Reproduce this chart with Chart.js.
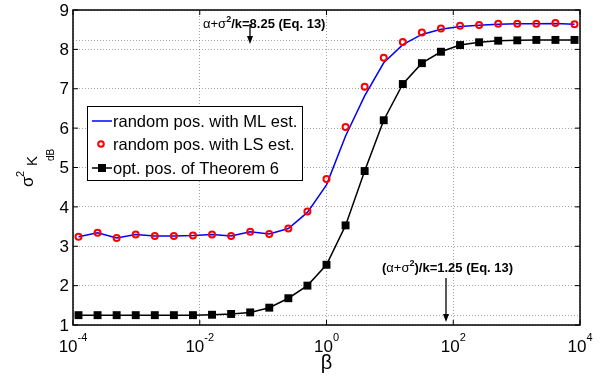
<!DOCTYPE html>
<html>
<head>
<meta charset="utf-8">
<script src="https://cdn.jsdelivr.net/npm/chart.js@4.4.0/dist/chart.umd.min.js"></script>
<style>
  html, body { margin: 0; padding: 0; background: #ffffff; }
  #wrap { width: 602px; height: 379px; }
</style>
</head>
<body>
<div id="wrap"><canvas id="c" width="602" height="379"></canvas></div>
<script>
// beta = 2^k for these exponents
const betaPow2 = [-13, -12, -11, -10, -9, -8, -7, -6, -5, -4, -3, -2, -1, 0,
                  1, 2, 3, 4, 5, 6, 7, 8, 9, 10, 11, 12, 13];

// random positions, ML estimator
const mlValues = [3.24, 3.34, 3.21, 3.30, 3.26, 3.26, 3.27, 3.30, 3.26, 3.37, 3.31, 3.45,
                  3.86, 4.56, 5.80, 6.82, 7.66, 8.12, 8.38, 8.51, 8.58, 8.61, 8.64, 8.65,
                  8.65, 8.66, 8.64];

// random positions, LS estimator
const lsValues = [3.24, 3.34, 3.21, 3.30, 3.26, 3.26, 3.27, 3.30, 3.26, 3.37, 3.31, 3.45,
                  3.88, 4.71, 6.03, 7.05, 7.79, 8.19, 8.43, 8.53, 8.60, 8.62, 8.65, 8.65,
                  8.65, 8.67, 8.64];

// optimal positions (Theorem 6)
const optValues = [1.25, 1.25, 1.25, 1.25, 1.25, 1.25, 1.25, 1.26, 1.28, 1.32, 1.44, 1.68,
                   2.00, 2.53, 3.53, 4.91, 6.20, 7.12, 7.65, 7.94, 8.11, 8.18, 8.22, 8.23,
                   8.24, 8.24, 8.24];

const seriesNames = ['random pos. with ML est.', 'random pos. with LS est.', 'opt. pos. of Theorem 6'];
const xTickExps = [-4, -2, 0, 2, 4];
const yTicks = [1, 2, 3, 4, 5, 6, 7, 8, 9];
const levelHigh = 8.25;   // (alpha+sigma^2)/k limit for large beta
const levelLow = 1.25;    // limit for small beta

const FONT = "'Liberation Sans', Arial, Helvetica, sans-serif";
const GRID_COLOR = 'rgba(90,90,90,0.55)';

const betas = betaPow2.map(k => Math.pow(2, k));
const toXY = vals => betas.map((b, i) => ({ x: b, y: vals[i] }));

// draws a run of text pieces with their own font and vertical shift
function drawRich(ctx, pieces, x, y) {
  let cx = x;
  for (const p of pieces) {
    ctx.font = p.font;
    ctx.fillText(p.t, cx, y + (p.dy || 0));
    cx += ctx.measureText(p.t).width;
  }
  return cx;
}

function drawArrow(ctx, x, y0, y1) {
  ctx.save();
  ctx.strokeStyle = '#000';
  ctx.fillStyle = '#000';
  ctx.lineWidth = 1.3;
  ctx.beginPath();
  ctx.moveTo(x, y0);
  ctx.lineTo(x, y1 - 6);
  ctx.stroke();
  ctx.beginPath();
  ctx.moveTo(x - 3, y1 - 8);
  ctx.lineTo(x + 3, y1 - 8);
  ctx.lineTo(x, y1);
  ctx.closePath();
  ctx.fill();
  ctx.restore();
}

const decorations = {
  id: 'decorations',
  beforeDatasetsDraw(chart) {
    const { ctx, chartArea: a, scales: { y } } = chart;
    ctx.save();
    ctx.strokeStyle = GRID_COLOR;
    ctx.lineWidth = 1;
    ctx.setLineDash([1, 2]);
    for (const v of [levelHigh, levelLow]) {
      const py = Math.round(y.getPixelForValue(v)) + 0.5;
      ctx.beginPath();
      ctx.moveTo(a.left, py);
      ctx.lineTo(a.right, py);
      ctx.stroke();
    }
    ctx.restore();
  },
  afterDraw(chart) {
    const { ctx, chartArea: a, scales: { x, y } } = chart;
    ctx.save();

    // axes box
    ctx.strokeStyle = '#000';
    ctx.lineWidth = 1.5;
    ctx.strokeRect(a.left, a.top, a.right - a.left, a.bottom - a.top);

    // inward tick marks
    ctx.lineWidth = 1;
    ctx.beginPath();
    for (const v of yTicks) {
      const py = y.getPixelForValue(v);
      ctx.moveTo(a.left, py); ctx.lineTo(a.left + 5, py);
      ctx.moveTo(a.right, py); ctx.lineTo(a.right - 5, py);
    }
    for (const e of xTickExps) {
      const px = x.getPixelForValue(Math.pow(10, e));
      ctx.moveTo(px, a.bottom); ctx.lineTo(px, a.bottom - 5);
      ctx.moveTo(px, a.top); ctx.lineTo(px, a.top + 5);
    }
    ctx.stroke();

    // y tick labels
    ctx.fillStyle = '#000';
    ctx.font = '17px ' + FONT;
    ctx.textAlign = 'right';
    ctx.textBaseline = 'middle';
    for (const v of yTicks) {
      ctx.fillText(String(v), a.left - 4, y.getPixelForValue(v) + 1);
    }

    // x tick labels as powers of ten
    ctx.textAlign = 'left';
    ctx.textBaseline = 'alphabetic';
    for (const e of xTickExps) {
      const px = x.getPixelForValue(Math.pow(10, e));
      ctx.font = '17px ' + FONT;
      const wb = ctx.measureText('10').width;
      ctx.font = '11px ' + FONT;
      const ws = ctx.measureText(String(e)).width;
      const sx = px - (wb + ws) / 2;
      ctx.font = '17px ' + FONT;
      ctx.fillText('10', sx, a.bottom + 27);
      ctx.font = '11px ' + FONT;
      ctx.fillText(String(e), sx + wb, a.bottom + 16);
    }

    // x axis title
    ctx.font = '20px ' + FONT;
    ctx.textAlign = 'center';
    ctx.fillText('\u03B2', x.getPixelForValue(1), 369);

    // y axis title: sigma^2 with subscript K_dB, rotated
    ctx.save();
    ctx.translate(33, 187);
    ctx.rotate(-Math.PI / 2);
    ctx.textAlign = 'left';
    ctx.font = '17px ' + FONT;
    ctx.fillText('\u03C3', 0, 0);
    ctx.font = '11px ' + FONT;
    ctx.fillText('2', 10, -9);
    ctx.font = '15px ' + FONT;
    ctx.fillText('K', 21, 4);
    ctx.font = '10px ' + FONT;
    ctx.fillText('dB', 26, 21);
    ctx.restore();

    // annotations
    ctx.textAlign = 'left';
    const reg = '13px ' + FONT, bold = 'bold 13px ' + FONT, sup = 'bold 9px ' + FONT;
    drawRich(ctx, [
      { t: '\u03B1+\u03C3', font: reg },
      { t: '2', font: sup, dy: -6 },
      { t: '/k=8.25 (Eq. 13)', font: bold }
    ], 203, 28);
    drawArrow(ctx, 250, 24, 44);

    drawRich(ctx, [
      { t: '(', font: bold },
      { t: '\u03B1+\u03C3', font: reg },
      { t: '2', font: sup, dy: -6 },
      { t: ')/k=1.25 (Eq. 13)', font: bold }
    ], 382, 272);
    drawArrow(ctx, 446, 278, 322);

    // legend
    const lx = 87, ly = 106, lw = 215, lh = 74;
    ctx.fillStyle = '#fff';
    ctx.fillRect(lx, ly, lw, lh);
    ctx.strokeStyle = '#000';
    ctx.lineWidth = 1;
    ctx.strokeRect(lx + 0.5, ly + 0.5, lw, lh);
    const rows = [121, 144, 168];
    // ML line sample
    ctx.strokeStyle = '#0000ff';
    ctx.lineWidth = 1.5;
    ctx.beginPath(); ctx.moveTo(92, rows[0]); ctx.lineTo(112, rows[0]); ctx.stroke();
    // LS marker sample
    ctx.strokeStyle = '#ff0000';
    ctx.lineWidth = 2;
    ctx.beginPath(); ctx.arc(101, rows[1], 2.8, 0, Math.PI * 2); ctx.stroke();
    // optimal line + square sample
    ctx.strokeStyle = '#000';
    ctx.lineWidth = 1.5;
    ctx.beginPath(); ctx.moveTo(92, rows[2]); ctx.lineTo(112, rows[2]); ctx.stroke();
    ctx.fillStyle = '#000';
    ctx.fillRect(98, rows[2] - 4, 8, 8);

    ctx.fillStyle = '#000';
    ctx.font = '16.5px ' + FONT;
    ctx.textAlign = 'left';
    ctx.textBaseline = 'middle';
    seriesNames.forEach((n, i) => ctx.fillText(n, 113, rows[i] + 1));

    ctx.restore();
  }
};

new Chart(document.getElementById('c'), {
  type: 'line',
  data: {
    datasets: [
      {
        label: seriesNames[0],
        data: toXY(mlValues),
        borderColor: '#0000ff',
        borderWidth: 1.5,
        pointRadius: 0,
        tension: 0,
        order: 3
      },
      {
        label: seriesNames[1],
        data: toXY(lsValues),
        showLine: false,
        pointStyle: 'circle',
        pointRadius: 3,
        pointBorderWidth: 2,
        borderColor: '#ff0000',
        pointBorderColor: '#ff0000',
        pointBackgroundColor: 'rgba(255,255,255,0)',
        order: 1
      },
      {
        label: seriesNames[2],
        data: toXY(optValues),
        borderColor: '#000000',
        borderWidth: 1.5,
        pointStyle: 'rect',
        pointRadius: 5.6,
        pointBorderWidth: 0,
        pointBackgroundColor: '#000000',
        pointBorderColor: '#000000',
        tension: 0,
        order: 2
      }
    ]
  },
  options: {
    responsive: false,
    animation: false,
    devicePixelRatio: 1,
    layout: { padding: { left: 73, right: 22, top: 10, bottom: 54 } },
    plugins: { legend: { display: false }, tooltip: { enabled: false } },
    scales: {
      x: {
        type: 'logarithmic',
        min: 1e-4,
        max: 1e4,
        afterBuildTicks: s => { s.ticks = xTickExps.map(e => ({ value: Math.pow(10, e) })); },
        ticks: { display: false },
        grid: { color: GRID_COLOR, lineWidth: 1, drawTicks: false },
        border: { display: false, dash: [1, 2] }
      },
      y: {
        type: 'linear',
        min: 1,
        max: 9,
        afterBuildTicks: s => { s.ticks = yTicks.map(v => ({ value: v })); },
        ticks: { display: false },
        grid: { color: GRID_COLOR, lineWidth: 1, drawTicks: false },
        border: { display: false, dash: [1, 2] }
      }
    }
  },
  plugins: [decorations]
});
</script>
</body>
</html>
